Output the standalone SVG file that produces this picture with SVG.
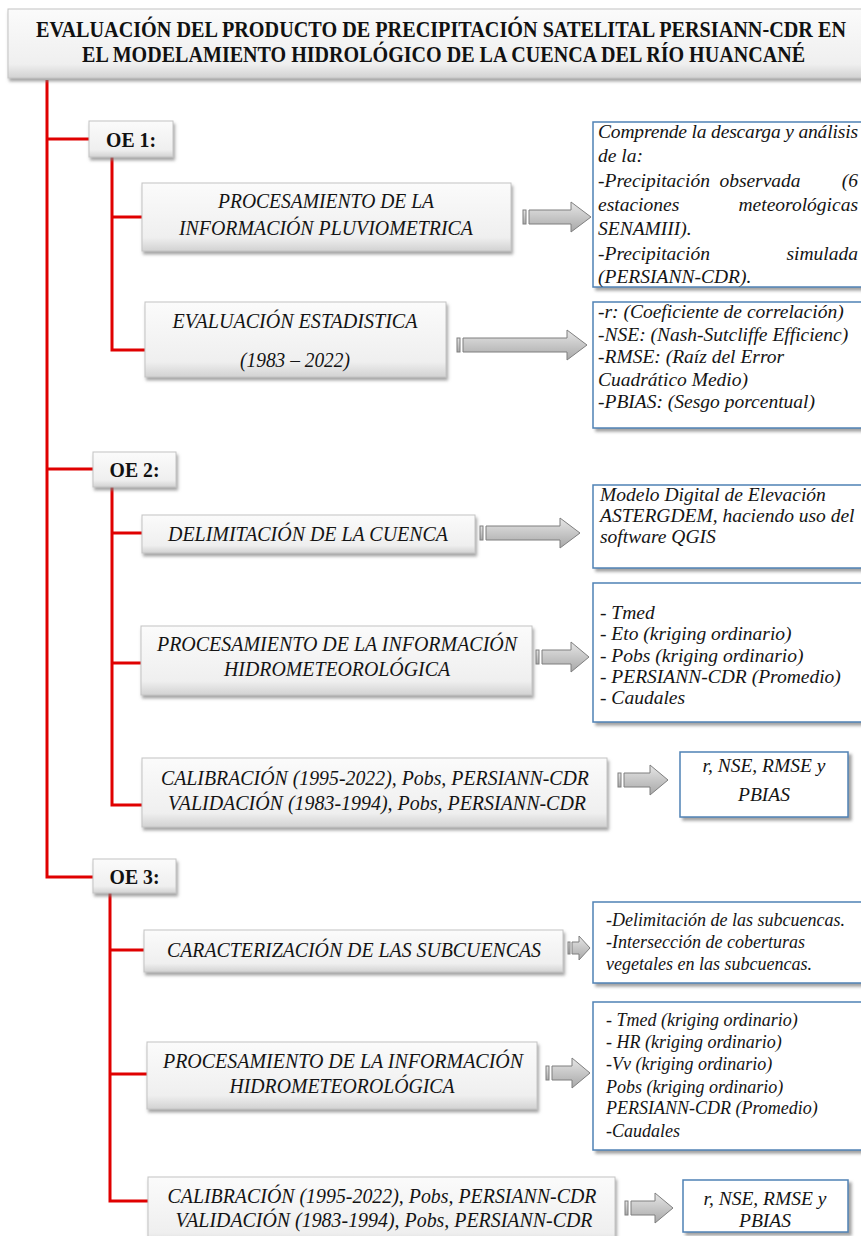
<svg xmlns="http://www.w3.org/2000/svg" width="861" height="1236" viewBox="0 0 861 1236">
<defs>
<linearGradient id="gg" x1="0" y1="0" x2="0" y2="1">
<stop offset="0" stop-color="#fbfbfb"/><stop offset="0.8" stop-color="#efefef"/><stop offset="1" stop-color="#d2d2d2"/>
</linearGradient>
<linearGradient id="ag" x1="0" y1="0" x2="0" y2="1">
<stop offset="0" stop-color="#e6e6e6"/><stop offset="1" stop-color="#a8a8a8"/>
</linearGradient>
<filter id="sh" x="-5%" y="-10%" width="115%" height="130%">
<feDropShadow dx="1.5" dy="3" stdDeviation="1.5" flood-color="#808080" flood-opacity="0.7"/>
</filter>
<filter id="bsh" x="-5%" y="-10%" width="115%" height="130%">
<feDropShadow dx="3" dy="3" stdDeviation="1.5" flood-color="#7a7a7a" flood-opacity="0.7"/>
</filter>
<clipPath id="c1"><rect x="593" y="122" width="280" height="165"/></clipPath>
</defs>
<style>
.red{stroke:#e00000;stroke-width:3;fill:none}
.gbox{fill:url(#gg);stroke:#c4c4c4;stroke-width:1;filter:url(#sh)}
.bbox{fill:#ffffff;stroke:#4f82b5;stroke-width:1.5;filter:url(#bsh)}
.arr{fill:url(#ag);stroke:#7f7f7f;stroke-width:1}
.t{font-family:"Liberation Serif","Times New Roman",serif;font-style:italic;fill:#141414}
.lt{font-size:22px;text-anchor:middle}
.rt{font-size:19.5px}
.rs{font-size:18px}
.mid{text-anchor:middle}
.end{text-anchor:end}
.oe{font-family:"Liberation Serif","Times New Roman",serif;font-weight:bold;font-size:22px;text-anchor:middle;fill:#111}
.title{font-family:"Liberation Serif","Times New Roman",serif;font-weight:bold;font-size:18px;text-anchor:middle;fill:#111}
</style>

<g id="connectors">
<path class="red" d="M47,80 V877 H93"/>
<path class="red" d="M47,139 H89"/>
<path class="red" d="M47,469 H93"/>
<path class="red" d="M112,157 V350 H145"/>
<path class="red" d="M112,217 H142"/>
<path class="red" d="M112,487 V805 H142"/>
<path class="red" d="M112,533 H142"/>
<path class="red" d="M112,663 H141"/>
<path class="red" d="M110,893 V1201 H148"/>
<path class="red" d="M110,950 H144"/>
<path class="red" d="M110,1074 H147"/>
</g>

<g id="arrows">
<rect class="arr" x="523" y="210" width="3" height="14"/><path class="arr" d="M529,210 H571 V202 L591,217 L571,232 V224 H529 Z"/>
<rect class="arr" x="457" y="338" width="3" height="14"/><path class="arr" d="M463,338 H567 V330 L587,345 L567,360 V352 H463 Z"/>
<rect class="arr" x="480" y="526" width="3" height="14"/><path class="arr" d="M486,526 H560 V518 L580,533 L560,548 V540 H486 Z"/>
<rect class="arr" x="536" y="650" width="3" height="14"/><path class="arr" d="M542,650 H571 V642 L589,657 L571,672 V664 H542 Z"/>
<rect class="arr" x="618" y="773" width="3" height="14"/><path class="arr" d="M624,773 H650 V765 L668,780 L650,795 V787 H624 Z"/>
<rect class="arr" x="568" y="942" width="2" height="12"/><path class="arr" d="M572,942 H579 V936 L590,948 L579,960 V954 H572 Z"/>
<rect class="arr" x="546" y="1066" width="3" height="14"/><path class="arr" d="M552,1066 H572 V1058 L590,1073 L572,1088 V1080 H552 Z"/>
<rect class="arr" x="625" y="1201" width="3" height="14"/><path class="arr" d="M631,1201 H655 V1193 L673,1208 L655,1223 V1215 H631 Z"/>
</g>

<g id="title">
<rect class="gbox" x="8" y="9" width="870" height="69"/>
<text class="title" transform="translate(441,37) scale(1,1.3)" x="0" y="0" textLength="810" lengthAdjust="spacingAndGlyphs">EVALUACIÓN DEL PRODUCTO DE PRECIPITACIÓN SATELITAL PERSIANN-CDR EN</text>
<text class="title" transform="translate(443.5,62) scale(1,1.3)" x="0" y="0" textLength="723" lengthAdjust="spacingAndGlyphs">EL MODELAMIENTO HIDROLÓGICO DE LA CUENCA DEL RÍO HUANCANÉ</text>
</g>

<g id="oe1">
<rect class="gbox" x="89" y="121" width="84" height="36"/>
<text class="oe" x="131" y="146.5" textLength="50" lengthAdjust="spacingAndGlyphs">OE 1:</text>
</g>
<g id="proc1">
<rect class="gbox" x="142" y="183" width="369" height="68"/>
<text class="t lt" x="326" y="207.5" textLength="216" lengthAdjust="spacingAndGlyphs">PROCESAMIENTO DE LA</text>
<text class="t lt" x="326" y="235" textLength="294" lengthAdjust="spacingAndGlyphs">INFORMACIÓN PLUVIOMETRICA</text>
</g>
<g id="desc1">
<rect class="bbox" x="593" y="122" width="280" height="165"/>
<g clip-path="url(#c1)">
<text class="t rt" x="598" y="138" textLength="260" lengthAdjust="spacing">Comprende la descarga y análisis</text>
<text class="t rt" x="598" y="162.3">de la:</text>
<text class="t rt" x="598" y="186.6">-Precipitación</text><text class="t rt mid" x="760" y="186.6">observada</text><text class="t rt end" x="858" y="186.6">(6</text>
<text class="t rt" x="598" y="210.9">estaciones</text><text class="t rt end" x="858" y="210.9">meteorológicas</text>
<text class="t rt" x="598" y="235.2">SENAMIII).</text>
<text class="t rt" x="598" y="259.5">-Precipitación</text><text class="t rt end" x="858" y="259.5">simulada</text>
<text class="t rt" x="598" y="283">(PERSIANN-CDR).</text>
</g>
</g>
<g id="eval1">
<rect class="gbox" x="145" y="302" width="301" height="75"/>
<text class="t lt" x="295" y="327.5" textLength="245" lengthAdjust="spacingAndGlyphs">EVALUACIÓN ESTADISTICA</text>
<text class="t lt" x="295" y="367" textLength="110" lengthAdjust="spacingAndGlyphs">(1983 – 2022)</text>
</g>
<g id="desc2">
<rect class="bbox" x="593" y="302" width="280" height="126"/>
<text class="t rt" x="598" y="318">-r: (Coeficiente de correlación)</text>
<text class="t rt" x="598" y="340.5">-NSE: (Nash-Sutcliffe Efficienc)</text>
<text class="t rt" x="598" y="363">-RMSE: (Raíz del Error</text>
<text class="t rt" x="598" y="385.5">Cuadrático Medio)</text>
<text class="t rt" x="598" y="408">-PBIAS: (Sesgo porcentual)</text>
</g>

<g id="oe2">
<rect class="gbox" x="93" y="452" width="83" height="35"/>
<text class="oe" x="134.5" y="477" textLength="50" lengthAdjust="spacingAndGlyphs">OE 2:</text>
</g>
<g id="delim">
<rect class="gbox" x="142" y="515" width="333" height="38"/>
<text class="t lt" x="308" y="540.5" textLength="280" lengthAdjust="spacingAndGlyphs">DELIMITACIÓN DE LA CUENCA</text>
</g>
<g id="desc3">
<rect class="bbox" x="593" y="485" width="280" height="83"/>
<text class="t rt" x="600" y="501">Modelo Digital de Elevación</text>
<text class="t rt" x="600" y="522">ASTERGDEM, haciendo uso del</text>
<text class="t rt" x="600" y="543">software QGIS</text>
</g>
<g id="proc2">
<rect class="gbox" x="141" y="626" width="391" height="69"/>
<text class="t lt" x="337" y="650.5" textLength="360" lengthAdjust="spacingAndGlyphs">PROCESAMIENTO DE LA INFORMACIÓN</text>
<text class="t lt" x="337" y="676" textLength="226" lengthAdjust="spacingAndGlyphs">HIDROMETEOROLÓGICA</text>
</g>
<g id="desc4">
<rect class="bbox" x="593" y="583" width="280" height="139"/>
<text class="t rt" x="600" y="619">- Tmed</text>
<text class="t rt" x="600" y="640">- Eto (kriging ordinario)</text>
<text class="t rt" x="600" y="661.5">- Pobs (kriging ordinario)</text>
<text class="t rt" x="600" y="683">- PERSIANN-CDR (Promedio)</text>
<text class="t rt" x="600" y="704">- Caudales</text>
</g>
<g id="calib2">
<rect class="gbox" x="142" y="758" width="465" height="69"/>
<text class="t lt" x="375" y="785" textLength="428" lengthAdjust="spacingAndGlyphs">CALIBRACIÓN (1995-2022), Pobs, PERSIANN-CDR</text>
<text class="t lt" x="377" y="810" textLength="418" lengthAdjust="spacingAndGlyphs">VALIDACIÓN (1983-1994), Pobs, PERSIANN-CDR</text>
</g>
<g id="res2">
<rect class="bbox" x="680" y="752" width="168" height="65"/>
<text class="t rt mid" x="764" y="772">r, NSE, RMSE y</text>
<text class="t rt mid" x="764" y="801">PBIAS</text>
</g>

<g id="oe3">
<rect class="gbox" x="93" y="859" width="83" height="34"/>
<text class="oe" x="134.5" y="884" textLength="50" lengthAdjust="spacingAndGlyphs">OE 3:</text>
</g>
<g id="caract">
<rect class="gbox" x="144" y="930" width="419" height="42"/>
<text class="t lt" x="354" y="957" textLength="374" lengthAdjust="spacingAndGlyphs">CARACTERIZACIÓN DE LAS SUBCUENCAS</text>
</g>
<g id="desc5">
<rect class="bbox" x="593" y="902" width="280" height="81"/>
<text class="t rs" x="606" y="926">-Delimitación de las subcuencas.</text>
<text class="t rs" x="606" y="948">-Intersección de coberturas</text>
<text class="t rs" x="606" y="970">vegetales en las subcuencas.</text>
</g>
<g id="proc3">
<rect class="gbox" x="147" y="1042" width="390" height="67"/>
<text class="t lt" x="343" y="1068" textLength="360" lengthAdjust="spacingAndGlyphs">PROCESAMIENTO DE LA INFORMACIÓN</text>
<text class="t lt" x="342" y="1093" textLength="225" lengthAdjust="spacingAndGlyphs">HIDROMETEOROLÓGICA</text>
</g>
<g id="desc6">
<rect class="bbox" x="593" y="1002" width="280" height="148"/>
<text class="t rs" x="606" y="1026">- Tmed (kriging ordinario)</text>
<text class="t rs" x="606" y="1048">- HR (kriging ordinario)</text>
<text class="t rs" x="606" y="1070">-Vv (kriging ordinario)</text>
<text class="t rs" x="606" y="1093">Pobs (kriging ordinario)</text>
<text class="t rs" x="606" y="1114">PERSIANN-CDR (Promedio)</text>
<text class="t rs" x="606" y="1137">-Caudales</text>
</g>
<g id="calib3">
<rect class="gbox" x="148" y="1177" width="467" height="70"/>
<text class="t lt" x="382" y="1203" textLength="429" lengthAdjust="spacingAndGlyphs">CALIBRACIÓN (1995-2022), Pobs, PERSIANN-CDR</text>
<text class="t lt" x="384" y="1227" textLength="417" lengthAdjust="spacingAndGlyphs">VALIDACIÓN (1983-1994), Pobs, PERSIANN-CDR</text>
</g>
<g id="res3">
<rect class="bbox" x="683" y="1180" width="165" height="52"/>
<text class="t rt mid" x="765" y="1205">r, NSE, RMSE y</text>
<text class="t rt mid" x="765" y="1227">PBIAS</text>
</g>
</svg>
